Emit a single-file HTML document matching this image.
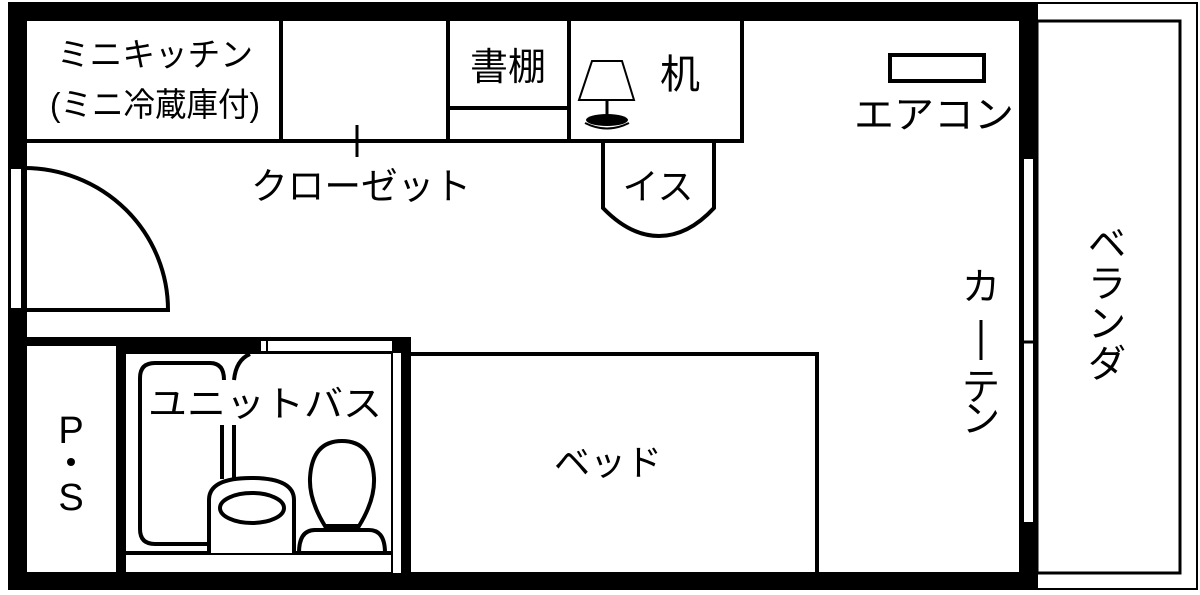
<!DOCTYPE html>
<html><head><meta charset="utf-8"><style>
html,body{margin:0;padding:0;background:#fff;}
svg{display:block;}
text{font-family:"Liberation Sans","Noto Sans CJK JP",sans-serif;fill:#000;}
</style></head><body>
<svg width="1200" height="595" viewBox="0 0 1200 595" xmlns="http://www.w3.org/2000/svg">
<rect width="1200" height="595" fill="#fff"/>
<rect x="8" y="2" width="1029" height="19" fill="#000"/>
<rect x="8" y="2" width="19" height="588" fill="#000"/>
<rect x="8" y="572" width="1029" height="18" fill="#000"/>
<rect x="1019" y="2" width="18" height="588" fill="#000"/>
<rect x="1023" y="158" width="11" height="365" fill="#fff" stroke="#000" stroke-width="2"/>
<line x1="1023" y1="342" x2="1034" y2="342" stroke="#000" stroke-width="3"/>
<rect x="1037" y="3" width="160" height="586" fill="none" stroke="#000" stroke-width="2"/>
<rect x="1037" y="21" width="143" height="552" fill="none" stroke="#000" stroke-width="3"/>
<rect x="10" y="168" width="12" height="141" fill="#fff" stroke="#000" stroke-width="2"/>
<path d="M24 168 A144 142 0 0 1 168 310 L24 310" fill="none" stroke="#000" stroke-width="4"/>
<line x1="26" y1="141" x2="742" y2="141" stroke="#000" stroke-width="4"/>
<line x1="281" y1="20" x2="281" y2="141" stroke="#000" stroke-width="4"/>
<line x1="448" y1="20" x2="448" y2="141" stroke="#000" stroke-width="4"/>
<line x1="569" y1="20" x2="569" y2="141" stroke="#000" stroke-width="4"/>
<line x1="742" y1="20" x2="742" y2="143" stroke="#000" stroke-width="4"/>
<line x1="448" y1="108" x2="569" y2="108" stroke="#000" stroke-width="4"/>
<line x1="357" y1="125" x2="357" y2="157" stroke="#000" stroke-width="3"/>
<text x="155" y="66" font-size="33" text-anchor="middle" textLength="196" lengthAdjust="spacingAndGlyphs">ミニキッチン</text>
<text x="155" y="116" font-size="33" text-anchor="middle" textLength="210" lengthAdjust="spacingAndGlyphs">(ミニ冷蔵庫付)</text>
<text x="508" y="80" font-size="38" text-anchor="middle">書棚</text>
<text x="680" y="88" font-size="40" text-anchor="middle">机</text>
<text x="361" y="199" font-size="37" text-anchor="middle" textLength="220" lengthAdjust="spacingAndGlyphs">クローゼット</text>
<path d="M592 61 L622 61 L634 100 L579 100 Z" fill="#fff" stroke="#000" stroke-width="2"/>
<line x1="607" y1="100" x2="607" y2="118" stroke="#000" stroke-width="3"/>
<ellipse cx="607" cy="120" rx="21" ry="6" fill="#000"/>
<path d="M585 123 Q607 134 629 123" fill="none" stroke="#000" stroke-width="2"/>
<path d="M603 141 L603 208 Q630 236 659 236 Q688 236 714 208 L714 141" fill="none" stroke="#000" stroke-width="4"/>
<text x="658" y="199" font-size="36" text-anchor="middle">イス</text>
<rect x="890" y="55" width="94" height="26" fill="none" stroke="#000" stroke-width="4"/>
<text x="934" y="128" font-size="38" text-anchor="middle" textLength="160" lengthAdjust="spacingAndGlyphs">エアコン</text>
<g font-size="38" text-anchor="middle">
<text x="981" y="300">カ</text>
<text x="981" y="400">テ</text>
<text x="981" y="432">ン</text>
</g>
<line x1="981" y1="320" x2="981" y2="360" stroke="#000" stroke-width="3"/>
<g font-size="38" text-anchor="middle">
<text x="1107" y="257">ベ</text>
<text x="1107" y="297">ラ</text>
<text x="1107" y="337">ン</text>
<text x="1107" y="377">ダ</text>
</g>
<rect x="8" y="337" width="403" height="9" fill="#000"/>
<rect x="116" y="337" width="295" height="17" fill="#000"/>
<rect x="116" y="337" width="10" height="240" fill="#000"/>
<rect x="402" y="337" width="9" height="240" fill="#000"/>
<rect x="260" y="340" width="133" height="12" fill="#fff" stroke="#000" stroke-width="2"/>
<line x1="267" y1="340" x2="267" y2="352" stroke="#000" stroke-width="2"/>
<rect x="392" y="352" width="10" height="222" fill="#fff" stroke="#000" stroke-width="2"/>
<line x1="126" y1="553" x2="392" y2="553" stroke="#000" stroke-width="4"/>
<path d="M208 544 L155 544 Q140 544 140 529 L140 378 Q140 363 155 363 L210 363 Q224 363 224 380" fill="none" stroke="#000" stroke-width="4"/>
<line x1="222" y1="425" x2="222" y2="479" stroke="#000" stroke-width="4"/>
<line x1="234" y1="425" x2="234" y2="479" stroke="#000" stroke-width="4"/>
<path d="M234 380 Q236 360 250 354" fill="none" stroke="#000" stroke-width="4"/>
<path d="M209 553 L209 500 Q209 478 251 478 Q294 478 294 500 L294 553" fill="#fff" stroke="#000" stroke-width="4"/>
<ellipse cx="252" cy="508" rx="32" ry="15" fill="none" stroke="#000" stroke-width="4"/>
<path d="M299 553 Q299 530 315 530 L369 530 Q385 530 385 553" fill="none" stroke="#000" stroke-width="4"/>
<path d="M325 526 Q309 500 310 478 Q312 441 342 441 Q372 441 374 478 Q375 500 359 526 Z" fill="none" stroke="#000" stroke-width="4"/>
<text x="265" y="416" font-size="36" text-anchor="middle" textLength="234" lengthAdjust="spacingAndGlyphs">ユニットバス</text>
<text x="71" y="443" font-size="38" text-anchor="middle">P</text>
<circle cx="71" cy="462" r="4" fill="#000"/>
<text x="71" y="510" font-size="38" text-anchor="middle">S</text>
<path d="M411 354 L817 354 L817 573" fill="none" stroke="#000" stroke-width="4"/>
<text x="608" y="475" font-size="36" text-anchor="middle">ベッド</text>
</svg>
</body></html>
